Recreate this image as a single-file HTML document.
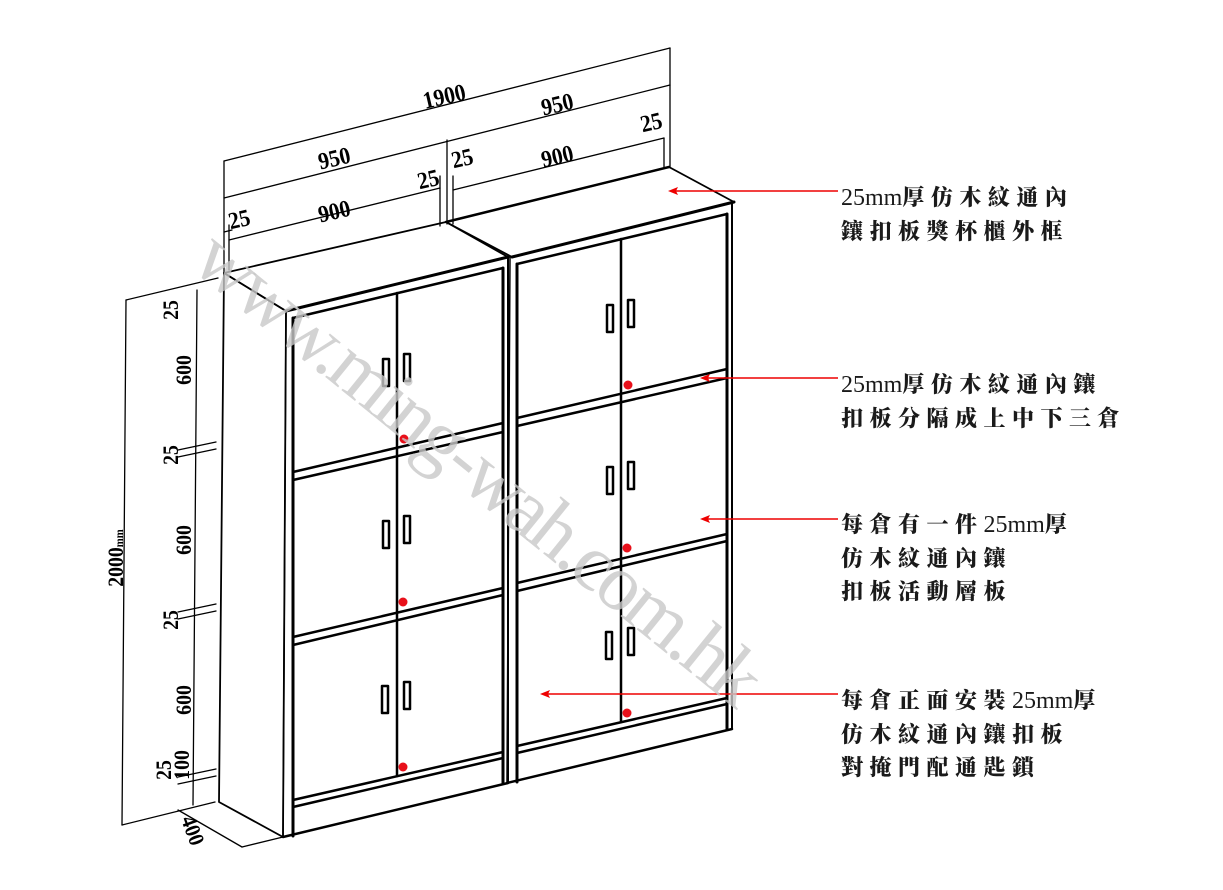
<!DOCTYPE html>
<html><head><meta charset="utf-8"><style>
html,body{margin:0;padding:0;background:#fff;}
svg{display:block;}
.lbl{position:absolute;left:841px;font-family:"Liberation Serif","Noto Serif CJK SC","Noto Serif CJK TC",serif;font-size:22px;font-weight:900;letter-spacing:6.5px;color:#1a1a1a;line-height:33px;white-space:nowrap;}
.lbl .n{font-size:24px;letter-spacing:0;font-weight:400;}
.dim{font-family:"Liberation Serif",serif;font-weight:bold;font-size:24px;fill:#000;}
</style></head><body>
<div style="position:relative;width:1223px;height:890px;overflow:hidden;">
<svg width="1223" height="890" viewBox="0 0 1223 890" xmlns="http://www.w3.org/2000/svg">
<g fill="none" stroke="#000" stroke-linecap="round" stroke-linejoin="round">
<g stroke-width="1.3">
<line x1="224" y1="161" x2="670" y2="48"/>
<line x1="224" y1="198" x2="670" y2="85"/>
<line x1="229" y1="240" x2="440" y2="188"/>
<line x1="224" y1="232" x2="232" y2="230"/>
<line x1="453" y1="190" x2="664" y2="138"/>
<line x1="224" y1="161" x2="224" y2="273"/>
<line x1="229" y1="225" x2="229" y2="270"/>
<line x1="670" y1="48" x2="670" y2="167"/>
<line x1="664" y1="138" x2="664" y2="167"/>
<line x1="440" y1="176" x2="440" y2="226"/>
<line x1="447" y1="140" x2="447" y2="224"/>
<line x1="453" y1="176" x2="453" y2="224"/>
</g>
<g stroke-width="1.3">
<line x1="126" y1="300" x2="218" y2="278"/>
<line x1="126" y1="300" x2="122" y2="825"/>
<line x1="122" y1="825" x2="215" y2="802"/>
<line x1="197" y1="290" x2="193" y2="805"/>
<line x1="178" y1="450" x2="216" y2="442"/><line x1="178" y1="457" x2="216" y2="449"/>
<line x1="178" y1="612" x2="216" y2="604"/><line x1="178" y1="619" x2="216" y2="611"/>
<line x1="178" y1="777" x2="216" y2="769"/><line x1="178" y1="784" x2="216" y2="776"/>
<line x1="178" y1="810" x2="242" y2="847"/>
<line x1="242" y1="847" x2="283" y2="837"/>
</g>
<g stroke-width="1.8">
<polygon points="224,273 286,311 283,837 219,802"/>
<polygon points="224,273 446,222 508,257 286,311"/>
<polygon points="446,222 669,167 734,202 512,257"/>
</g>
<line x1="286" y1="311" x2="508" y2="257" stroke-width="3"/>
<line x1="512" y1="257" x2="734" y2="202" stroke-width="3"/>
<line x1="446" y1="222" x2="669" y2="167" stroke-width="2.5"/>
<g id="cab">
 <line x1="286" y1="311" x2="283" y2="837" stroke-width="1.5"/>
 <line x1="293" y1="318" x2="293" y2="836" stroke-width="3"/>
 <line x1="503" y1="268" x2="503" y2="783" stroke-width="3"/>
 <line x1="508" y1="257" x2="508" y2="783" stroke-width="2"/>
 <line x1="293" y1="318" x2="503" y2="268" stroke-width="2.5"/>
 <line x1="293" y1="472" x2="503" y2="423" stroke-width="2.5"/>
 <line x1="293" y1="480" x2="503" y2="432" stroke-width="2.5"/>
 <line x1="293" y1="637" x2="503" y2="588" stroke-width="2.5"/>
 <line x1="293" y1="645" x2="503" y2="595" stroke-width="2.5"/>
 <line x1="293" y1="800" x2="503" y2="752" stroke-width="2.5"/>
 <line x1="293" y1="807" x2="503" y2="758" stroke-width="2.5"/>
 <line x1="283" y1="837" x2="508" y2="783" stroke-width="2.5"/>
 <line x1="397" y1="293" x2="397" y2="776" stroke-width="2.5"/>
 <g stroke-width="2.5">
  <rect x="383" y="359" width="6" height="27"/><rect x="404" y="354" width="6" height="27"/>
  <rect x="383" y="521" width="6" height="27"/><rect x="404" y="516" width="6" height="27"/>
  <rect x="382" y="686" width="6" height="27"/><rect x="404" y="682" width="6" height="27"/>
 </g>
 <g fill="#e8101a" stroke="none">
  <circle cx="404" cy="439" r="4.5"/><circle cx="403" cy="602" r="4.5"/><circle cx="403" cy="767" r="4.5"/>
 </g>
</g>
<use href="#cab" transform="translate(224,-54)"/>
</g>
<g class="dim">
<text transform="translate(446,104) rotate(-13) scale(0.9,1)" text-anchor="middle">1900</text>
<text transform="translate(336,166) rotate(-13) scale(0.9,1)" text-anchor="middle">950</text>
<text transform="translate(559,112) rotate(-13) scale(0.9,1)" text-anchor="middle">950</text>
<text transform="translate(653,130) rotate(-13) scale(0.9,1)" text-anchor="middle">25</text>
<text transform="translate(559,164) rotate(-13) scale(0.9,1)" text-anchor="middle">900</text>
<text transform="translate(464,166) rotate(-13) scale(0.9,1)" text-anchor="middle">25</text>
<text transform="translate(430,187) rotate(-13) scale(0.9,1)" text-anchor="middle">25</text>
<text transform="translate(336,219) rotate(-13) scale(0.9,1)" text-anchor="middle">900</text>
<text transform="translate(241,227) rotate(-13) scale(0.9,1)" text-anchor="middle">25</text>
<g font-size="22">
<text transform="translate(178,310) rotate(-90) scale(0.9,1)" text-anchor="middle">25</text>
<text transform="translate(191,370) rotate(-90) scale(0.9,1)" text-anchor="middle">600</text>
<text transform="translate(178,455) rotate(-90) scale(0.9,1)" text-anchor="middle">25</text>
<text transform="translate(191,540) rotate(-90) scale(0.9,1)" text-anchor="middle">600</text>
<text transform="translate(178,620) rotate(-90) scale(0.9,1)" text-anchor="middle">25</text>
<text transform="translate(191,700) rotate(-90) scale(0.9,1)" text-anchor="middle">600</text>
<text transform="translate(171,770) rotate(-90) scale(0.9,1)" text-anchor="middle">25</text>
<text transform="translate(189,765) rotate(-90) scale(0.9,1)" text-anchor="middle">100</text>
<text transform="translate(123,558) rotate(-90) scale(0.9,1)" text-anchor="middle">2000<tspan font-size="12">mm</tspan></text>
<text transform="translate(186,833) rotate(70) scale(0.9,1)" text-anchor="middle">400</text>
</g>
</g>
<g stroke="#e00" stroke-width="1.5" fill="#e00">
<line x1="838" y1="191" x2="672" y2="191"/><polygon stroke="none" points="668,191 678,187 676,191 678,195"/>
<line x1="838" y1="378" x2="704" y2="378"/><polygon stroke="none" points="700,378 710,374 708,378 710,382"/>
<line x1="838" y1="519" x2="704" y2="519"/><polygon stroke="none" points="700,519 710,515 708,519 710,523"/>
<line x1="838" y1="694" x2="544" y2="694"/><polygon stroke="none" points="540,694 550,690 548,694 550,698"/>
</g>
<g transform="translate(204,248) rotate(39)">
<text x="0" y="24" font-family="Liberation Serif, serif" font-size="80" fill="#c8c8c8" fill-opacity="0.8" textLength="705" lengthAdjust="spacing">www.ming-wah.com.hk</text>
</g>
</svg>
<div class="lbl" style="top:181px;"><span class="n">25mm</span>厚仿木紋通內<br>鑲扣板獎杯櫃外框</div>
<div class="lbl" style="top:368px;"><span class="n">25mm</span>厚仿木紋通內鑲<br>扣板分隔成上中下三倉</div>
<div class="lbl" style="top:508px;">每倉有一件<span class="n">25mm</span>厚<br>仿木紋通內鑲<br>扣板活動層板</div>
<div class="lbl" style="top:684px;">每倉正面安裝<span class="n">25mm</span>厚<br>仿木紋通內鑲扣板<br>對掩門配通匙鎖</div>
</div>
</body></html>
